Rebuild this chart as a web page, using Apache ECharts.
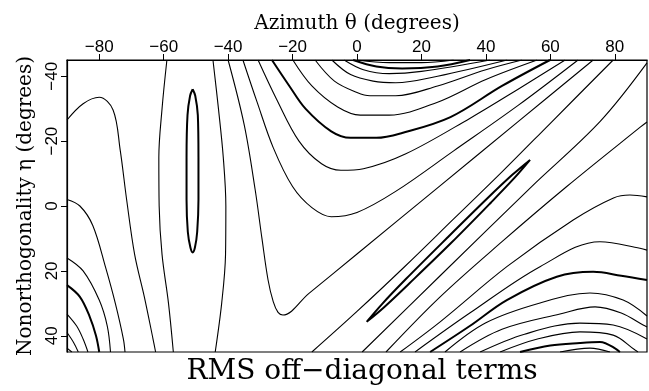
<!DOCTYPE html>
<html>
<head>
<meta charset="utf-8">
<script src="https://cdn.jsdelivr.net/npm/echarts@6/dist/echarts.min.js"></script>
<style>
  html, body { margin: 0; padding: 0; background: #fff; }
  #chart { width: 649px; height: 391px; }
</style>
</head>
<body>
<div id="chart"></div>
<script>
// tick values
const xTicks = [-80, -60, -40, -20, 0, 20, 40, 60, 80];
const yTicks = [-40, -20, 0, 20, 40];

// contour lines, [azimuth, nonorthogonality] in degrees
const thin = [
  // left family
  [[-90, 43.8], [-88.5, 45]],
  [[-90, 39], [-88, 42], [-86.5, 45]],
  [[-90, 33.3], [-87, 37], [-85, 41], [-83.5, 45]],
  [[-90, 16], [-85, 20], [-80, 29], [-77.5, 37], [-76.5, 45]],
  [[-90, -2], [-86, 0], [-82, 6], [-78, 19], [-75, 30], [-72.5, 41], [-72, 45]],
  [[-90, -26.5], [-85, -31.5], [-80, -33.5], [-75.7, -29.6], [-73.5, -17.3], [-71.5, -2], [-69, 15], [-66, 28], [-63.3, 41], [-62.5, 45]],
  [[-59, -45], [-60.5, -30], [-61.5, -15], [-61.4, 0], [-60.5, 15], [-58.5, 30], [-57, 45]],
  [[-44.7, -45], [-43, -30], [-41.5, -15], [-40.7, 0], [-40.8, 15], [-42, 30], [-44, 45]],
  // V line
  [[-40, -45], [-35, -25], [-31.6, -5], [-29.5, 10], [-27.6, 22.8], [-26, 29.5], [-24.5, 32.8], [-23, 33.6], [-15, 27], [0, 14.8], [25, -5.6], [50, -26], [73.3, -45]],
  // U family
  [[-35.4, -45], [-31, -32], [-26, -18], [-20, -6], [-14, 0.5], [-8, 3.3], [0, 2], [12, -4.5], [30, -17], [50, -31], [68.6, -45]],
  [[-30.7, -45], [-25, -33], [-18, -20], [-11, -13], [-5, -11], [2, -11.5], [15, -16], [35, -27], [50, -36], [64.6, -45]],
  [[-19.9, -45], [-14, -37], [-6, -30.5], [1, -28], [10, -28], [25, -32], [40, -39], [55.9, -45]],
  [[-13, -45], [-7, -38.5], [0, -35], [4, -34], [12, -34], [25, -37], [40, -42], [51.2, -45]],
  [[-7.8, -45], [-2, -40.5], [5, -38.5], [12, -38], [25, -40], [46.6, -45]],
  [[-4, -45], [2, -42], [10, -40.8], [20, -41.5], [41.3, -45]],
  [[0, -45], [10, -44.2], [20, -44.2], [30, -45]],
  // diagonals around the valley
  [[-14, 45], [0, 32.5], [15, 18.5], [30, 4], [45, -10.5], [60, -25.5], [79.5, -45]],
  [[1.6, 45], [25.8, 21.5], [54.2, -6], [75.4, -26], [90, -44.1]],
  [[9, 45], [25.8, 28], [45, 11], [65.1, -6], [87.9, -24.3], [90, -25.9]],
  // domes, lower right
  [[13.4, 45], [25.8, 35.7], [46.5, 18.7], [67.1, 4.3], [79.6, -2.5], [84.7, -3.4], [90, -2.8]],
  [[18, 45], [35, 33], [56.8, 18.7], [75.4, 11], [87.8, 13], [90, 13.6]],
  [[27.3, 45], [40, 36], [56.8, 29.9], [72.3, 26.8], [82.6, 29], [90, 33.9]],
  [[32, 45], [45, 38], [63, 33.3], [73.9, 31.1], [82, 33], [88.8, 36.7], [90, 37.3]],
  [[38.2, 45], [52, 39.5], [69.2, 36.1], [79.5, 36.7], [90, 41]],
  [[44.4, 45], [56, 41], [69.2, 38.8], [79.5, 39.8], [86.3, 44.4], [87.2, 45]],
  [[63, 45], [72.3, 43.8], [78.5, 45]]
];
const bold = [
  [[-90, 24.4], [-86, 28], [-83, 34], [-81, 40], [-80, 45]],
  [[-51, -36], [-50.2, -34], [-49.4, -28], [-49.2, -15], [-49.2, -2], [-49.6, 8], [-50.3, 12.8], [-51, 14.3], [-51.7, 12.8], [-52.5, 8], [-52.9, -2], [-52.9, -15], [-52.6, -28], [-51.8, -34], [-51, -36]],
  [[-26.4, -45], [-21, -37], [-16, -30], [-8, -23], [-2, -21], [6, -21], [14, -22.5], [29, -27.4], [45, -37], [59.9, -45]],
  [[-1.2, -45], [6, -43], [14, -42.4], [25, -43], [35.1, -45]],
  [[3, 35.7], [7.7, 30.3], [15.1, 22.6], [27.7, 10.1], [40.4, -2.3], [48.2, -9.6], [53.7, -14.2], [49, -8.8], [41.6, -1.1], [29.1, 11.5], [16.3, 23.8], [8.5, 31.1], [3, 35.7]],
  [[22.7, 45], [35, 37], [46.5, 29], [62, 21.8], [73.3, 20.3], [82, 21.5], [90, 22.8]],
  [[50.6, 45], [60, 43], [69.2, 42.2], [75.4, 41.9], [81.6, 45]]
];

const minus = v => String(v).replace('-', '\u2212');

const series = [];
thin.forEach(d => series.push({ type: 'line', data: d, smooth: 0.35, showSymbol: false, silent: true,
  lineStyle: { color: '#000', width: 1.1 } }));
bold.forEach(d => series.push({ type: 'line', data: d, smooth: 0.35, showSymbol: false, silent: true,
  lineStyle: { color: '#000', width: 2 } }));

const chart = echarts.init(document.getElementById('chart'));
chart.setOption({
  animation: false,
  title: {
    text: 'RMS off\u2212diagonal terms',
    left: 357, top: 353, textAlign: 'center',
    textStyle: { fontFamily: 'DejaVu Serif', fontWeight: 'normal', fontSize: 28, color: '#000' }
  },
  grid: { left: 67, right: 2, top: 60, bottom: 39, outerBoundsMode: 'none', containLabel: false,
    show: true, borderColor: '#000', borderWidth: 1.2 },
  xAxis: {
    type: 'value', position: 'top', min: -90, max: 90,
    name: 'Azimuth \u03b8 (degrees)', nameLocation: 'middle', nameGap: 24,
    nameTextStyle: { fontFamily: 'DejaVu Serif', fontSize: 20, color: '#000' },
    axisLine: { onZero: false, lineStyle: { color: '#000', width: 1.2 } },
    axisTick: { show: true, length: 6, customValues: xTicks, lineStyle: { color: '#000' } },
    axisLabel: { customValues: xTicks, formatter: minus, margin: 4, fontFamily: 'Liberation Sans', fontSize: 17, color: '#000' },
    splitLine: { show: false }
  },
  yAxis: {
    type: 'value', inverse: true, min: -45, max: 45,
    name: 'Nonorthogonality \u03b7 (degrees)', nameLocation: 'middle', nameGap: 31, nameRotate: 90,
    nameTextStyle: { fontFamily: 'DejaVu Serif', fontSize: 20, color: '#000' },
    axisLine: { onZero: false, lineStyle: { color: '#000', width: 1.2 } },
    axisTick: { show: true, length: 6, customValues: yTicks, lineStyle: { color: '#000' } },
    axisLabel: { customValues: yTicks, formatter: minus, rotate: 90, margin: 6, fontFamily: 'Liberation Sans', fontSize: 17, color: '#000' },
    splitLine: { show: false }
  },
  series: series
});
</script>
</body>
</html>
